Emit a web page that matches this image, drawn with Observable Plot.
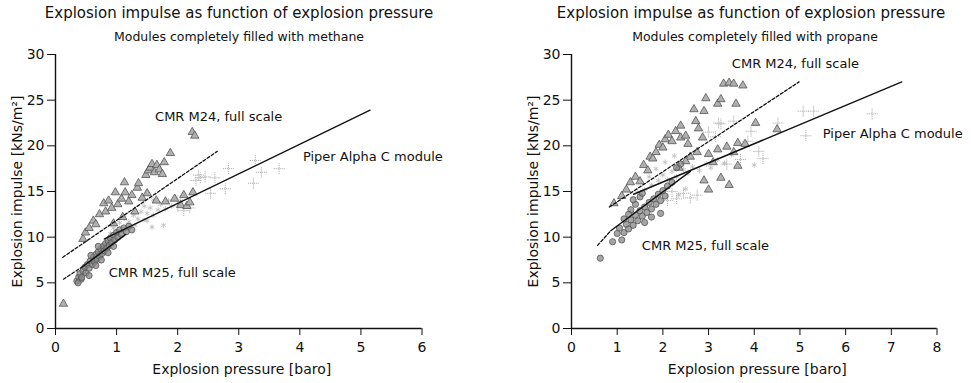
<!DOCTYPE html>
<html><head><meta charset="utf-8">
<script src="https://cdn.jsdelivr.net/npm/d3@7"></script>
<script src="https://cdn.jsdelivr.net/npm/@observablehq/plot@0.6"></script>
<style>
body{margin:0;background:#fff;font-family:"DejaVu Sans",sans-serif;}
#wrap{position:relative;width:971px;height:383px;overflow:hidden;background:#fff}
.t{position:absolute;width:500px;text-align:center;color:#111;white-space:nowrap}
.title{font-size:15px;top:4px}
.sub{font-size:12.5px;top:29px}
.chart{position:absolute;top:40px}
</style></head><body>
<div id="wrap">
  <div class="t title" style="left:-11px">Explosion impulse as function of explosion pressure</div>
  <div class="t sub" style="left:-11px">Modules completely filled with methane</div>
  <div class="t title" style="left:501px">Explosion impulse as function of explosion pressure</div>
  <div class="t sub" style="left:505px">Modules completely filled with propane</div>
  <div class="chart" id="left" style="left:0px"></div>
  <div class="chart" id="right" style="left:490px"></div>
</div>
<script>
// ---- tick values ----
const yTicks = [0, 5, 10, 15, 20, 25, 30];
const xTicksMethane = [0, 1, 2, 3, 4, 5, 6];
const xTicksPropane = [0, 1, 2, 3, 4, 5, 6, 7, 8];

// ---- methane: CMR M24 (triangles) [pressure barg, impulse kNs/m2] ----
const methaneM24 = [
  [0.13,2.7],[0.45,9.8],[0.49,10.5],[0.55,11.0],[0.62,11.8],[0.66,11.4],[0.72,12.5],[0.79,13.7],
  [0.82,12.8],[0.87,14.0],[0.92,13.2],[0.98,14.9],[1.02,13.6],[1.08,14.2],[1.13,16.0],[1.14,14.9],
  [1.20,13.9],[1.25,14.6],[1.34,15.4],[1.36,15.9],[1.42,14.3],[1.50,14.8],[1.48,16.8],[1.52,17.3],
  [1.55,17.6],[1.58,18.0],[1.62,17.1],[1.66,17.9],[1.70,17.4],[1.75,16.9],[1.78,18.2],[1.88,19.2],
  [1.65,14.0],[1.80,13.9],[1.95,14.2],[2.05,13.5],[2.15,13.4],[2.20,13.8],[2.24,21.5],[2.28,21.1],
  [1.30,12.8],[1.10,12.2],[0.95,11.5],[2.10,14.6],[2.25,14.9]
];
// ---- methane: CMR M25 (circles) ----
const methaneM25 = [
  [0.35,5.2],[0.38,5.6],[0.40,6.0],[0.42,5.4],[0.45,6.3],[0.48,6.7],[0.50,6.1],[0.52,7.0],
  [0.55,6.6],[0.57,7.4],[0.60,7.0],[0.62,7.8],[0.64,7.3],[0.66,8.1],[0.68,7.6],[0.70,8.4],
  [0.72,7.9],[0.74,8.7],[0.76,8.2],[0.78,9.0],[0.80,8.5],[0.82,9.3],[0.84,8.8],[0.86,9.6],
  [0.88,9.1],[0.90,9.9],[0.92,9.4],[0.95,10.2],[0.97,9.7],[1.00,10.5],[1.02,10.0],[1.05,10.8],
  [1.08,10.3],[1.12,11.0],[1.16,10.6],[1.20,11.2],[0.58,8.0],[0.70,9.0],[0.66,6.9],[0.75,7.5],
  [0.86,8.3],[0.55,5.8],[1.25,10.8],[0.95,9.0],[0.37,5.0],[0.43,5.6]
];
// ---- methane: Piper Alpha C module (plus) ----
const methanePiper = [
  [2.30,16.2],[2.34,16.8],[2.37,16.5],[2.45,16.6],[2.54,14.8],[2.61,16.5],[2.78,15.3],[2.83,17.5],
  [3.24,15.9],[3.27,18.4],[3.37,17.1],[3.66,17.5],[2.20,13.2],[2.10,12.9],[2.00,13.4]
];
// ---- methane: other light-grey points ----
const methaneOther = [
  [0.95,11.0],[1.05,11.6],[1.12,12.1],[1.20,11.7],[1.28,12.4],[1.35,12.0],[1.40,12.8],[1.45,11.9],
  [1.50,12.6],[1.55,13.2],[1.60,12.4],[1.68,13.0],[1.72,13.6],[1.80,13.1],[1.85,14.0],[1.90,13.4],
  [1.97,14.4],[2.05,14.0],[1.30,11.3],[1.45,13.4],[1.60,14.1],[1.15,10.9],[1.50,11.8],[1.77,11.3],
  [1.58,11.1],[0.90,10.4]
];
// ---- methane fit lines ----
const methaneM24Fit = [[0.12,7.8],[2.65,19.4]];
const methaneM25FitDashed = [[0.13,5.4],[0.45,6.8]];
const methaneM25FitSolid = [[0.45,6.8],[1.15,10.3]];
const methanePiperFit = [[0.80,9.8],[5.15,23.9]];

// ---- propane: CMR M24 (triangles) ----
const propaneM24 = [
  [0.93,13.7],[1.10,14.5],[1.20,15.2],[1.29,16.0],[1.40,16.6],[1.50,16.1],[1.58,17.9],[1.67,17.3],
  [1.72,18.8],[1.78,18.6],[1.85,19.3],[1.92,20.1],[2.00,19.8],[2.05,20.7],[2.12,21.2],[2.20,20.5],
  [2.28,21.6],[2.39,22.2],[2.39,20.9],[2.50,21.1],[2.55,20.2],[2.68,24.0],[2.72,22.7],[2.78,21.9],
  [2.87,20.9],[2.90,23.8],[2.94,25.2],[3.20,24.6],[3.27,25.1],[3.33,26.8],[3.45,26.9],[3.55,26.8],
  [3.60,24.6],[3.75,26.6],[4.03,22.5],[4.50,21.8],[3.27,16.5],[3.64,17.8],[2.90,16.2],[3.64,20.3],
  [3.00,19.1],[3.20,19.6],[3.40,19.9],[3.55,19.3],[3.80,20.2],[2.60,18.8],[2.75,19.3],[3.10,18.2],
  [2.35,17.6],[2.50,18.3],[3.45,15.7],[3.00,15.2]
];
// ---- propane: CMR M25 (circles) ----
const propaneM25 = [
  [0.63,7.7],[0.90,9.5],[1.10,9.7],[1.00,10.4],[1.05,11.0],[1.15,10.5],[1.20,11.4],[1.25,10.9],
  [1.30,11.9],[1.35,11.3],[1.40,12.4],[1.45,11.8],[1.50,12.9],[1.55,12.3],[1.60,13.3],[1.65,12.7],
  [1.70,13.8],[1.75,13.1],[1.80,14.2],[1.85,13.6],[1.90,14.7],[1.95,14.0],[2.00,15.1],[2.05,14.5],
  [2.10,15.6],[1.30,13.0],[1.40,13.6],[1.35,14.1],[1.50,14.4],[1.25,12.5],[1.15,12.0],[1.55,14.8],
  [1.60,11.6],[1.75,12.2],[2.20,16.0],[2.39,18.0],[2.30,17.6],[1.95,12.6]
];
// ---- propane: Piper Alpha C module (plus) ----
const propanePiper = [
  [2.30,14.2],[2.45,14.8],[2.60,14.3],[2.75,14.6],[2.10,14.0],[2.20,15.0],[3.22,22.5],[3.27,22.4],
  [3.55,22.7],[3.86,20.5],[3.93,21.6],[4.19,18.6],[4.52,22.5],[5.07,23.8],[5.30,23.8],[5.13,21.1],
  [6.58,23.5],[3.40,18.0],[3.70,18.5],[4.10,19.4],[3.00,21.5],[3.15,21.0]
];
// ---- propane: other light-grey points ----
const propaneOther = [
  [1.60,15.2],[1.75,15.7],[1.90,16.2],[2.00,16.8],[2.10,16.3],[2.20,17.2],[2.30,16.6],[2.45,17.4],
  [2.55,17.0],[2.65,17.7],[2.80,17.3],[2.95,18.0],[3.05,17.6],[3.20,18.5],[3.35,18.1],[3.50,19.0],
  [1.85,17.5],[2.05,18.2],[2.25,18.9],[1.70,16.6],[2.35,14.6],[2.50,15.3],[4.00,17.9],[1.45,14.9]
];
// ---- propane fit lines ----
const propaneM24Fit = [[0.83,13.3],[4.98,27.0]];
const propaneM25FitDashed = [[0.57,9.1],[0.86,10.7]];
const propaneM25FitSolid = [[0.86,10.7],[2.60,17.2]];
const propanePiperFit = [[1.36,14.7],[7.23,27.0]];

const font = "'DejaVu Sans', sans-serif";

function panel(o) {
  const X = d => d[0], Y = d => d[1];
  return Plot.plot({
    width: o.width, height: 343,
    marginTop: 14, marginBottom: 55, marginLeft: o.mLeft, marginRight: o.mRight,
    style: {fontFamily: font, fontSize: "14px", color: "#111", background: "transparent", overflow: "visible"},
    x: {domain: [0, o.xmax]},
    y: {domain: [0, 30]},
    marks: [
      Plot.dot(o.other, {x: X, y: Y, symbol: "asterisk", r: 2.6, stroke: "#bbb", strokeWidth: 0.8}),
      Plot.dot(o.piper, {x: X, y: Y, symbol: "plus", r: 3.6, stroke: "#9a9a9a", strokeWidth: 0.8, strokeDasharray: "1.2,0.8"}),
      Plot.dot(o.m24, {x: X, y: Y, symbol: "triangle", r: 3.1, fill: "#b0b0b0", stroke: "#555", strokeWidth: 0.8}),
      Plot.dot(o.m25, {x: X, y: Y, symbol: "circle", r: 3.1, fill: "#888", fillOpacity: 0.75, stroke: "#555", strokeWidth: 0.8}),
      Plot.line(o.m24Fit, {x: X, y: Y, stroke: "#111", strokeWidth: 1.3, strokeDasharray: "3,2"}),
      Plot.line(o.m25FitD, {x: X, y: Y, stroke: "#111", strokeWidth: 1.3, strokeDasharray: "3,2"}),
      Plot.line(o.m25FitS, {x: X, y: Y, stroke: "#111", strokeWidth: 1.4}),
      Plot.line(o.piperFit, {x: X, y: Y, stroke: "#111", strokeWidth: 1.4}),
      Plot.ruleY([0], {stroke: "#111", strokeWidth: 1.4}),
      Plot.ruleX([0], {stroke: "#111", strokeWidth: 1.4}),
      Plot.axisX(o.xticks, {tickSize: 7, tickPadding: 7, label: null, fontSize: 14, tickFormat: d => String(d)}),
      Plot.axisY(yTicks, {tickSize: 8, tickPadding: 3, label: null, fontSize: 14, tickFormat: d => String(d)}),
      Plot.text(o.labels, {x: d => d.x, y: d => d.y, text: d => d.t, textAnchor: "start", fontSize: 13, fill: "#111"}),
      Plot.text(["Explosion pressure [baro]"], {frameAnchor: "bottom", dy: 45, dx: 3, text: d => d, fontSize: 14, fill: "#111"}),
      Plot.text(["Explosion impulse [kNs/m\u00b2]"], {frameAnchor: "left", textAnchor: "middle", lineAnchor: "middle", rotate: -90, dx: -38, text: d => d, fontSize: 14, fill: "#111"})
    ]
  });
}

document.getElementById("left").append(panel({
  width: 490, mLeft: 55, mRight: 68.5, xmax: 6, xticks: xTicksMethane,
  m24: methaneM24, m25: methaneM25, piper: methanePiper, other: methaneOther,
  m24Fit: methaneM24Fit, m25FitD: methaneM25FitDashed, m25FitS: methaneM25FitSolid, piperFit: methanePiperFit,
  labels: [
    {x: 1.63, y: 23.2, t: "CMR M24, full scale"},
    {x: 4.05, y: 18.8, t: "Piper Alpha C module"},
    {x: 0.87, y: 6.1, t: "CMR M25, full scale"}
  ]
}));
document.getElementById("right").append(panel({
  width: 481, mLeft: 81, mRight: 34.5, xmax: 8, xticks: xTicksPropane,
  m24: propaneM24, m25: propaneM25, piper: propanePiper, other: propaneOther,
  m24Fit: propaneM24Fit, m25FitD: propaneM25FitDashed, m25FitS: propaneM25FitSolid, piperFit: propanePiperFit,
  labels: [
    {x: 3.51, y: 29.0, t: "CMR M24, full scale"},
    {x: 5.5, y: 21.3, t: "Piper Alpha C module"},
    {x: 1.54, y: 9.0, t: "CMR M25, full scale"}
  ]
}));
</script>
</body></html>
